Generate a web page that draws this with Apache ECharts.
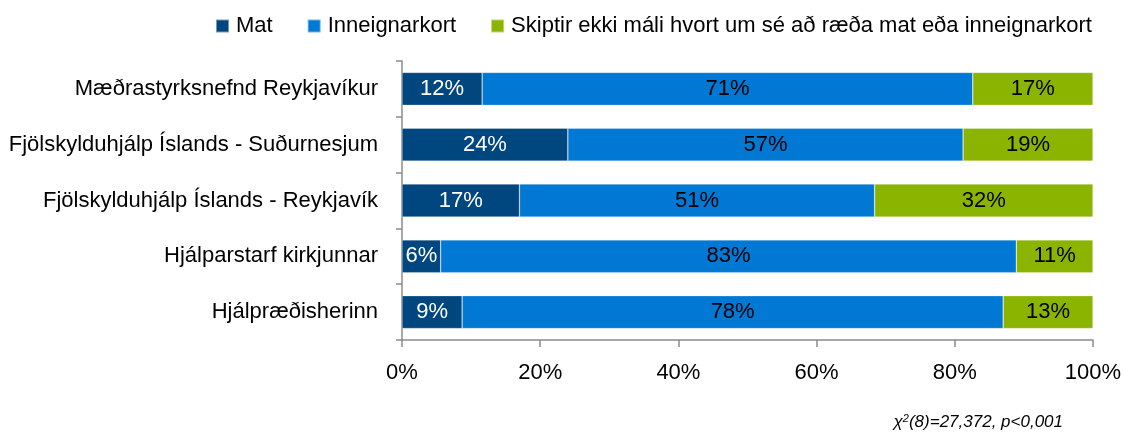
<!DOCTYPE html>
<html>
<head>
<meta charset="utf-8">
<style>
  html, body { margin: 0; padding: 0; background: #fff; }
  #chart { width: 1125px; height: 436px; }
</style>
<script src="https://cdn.jsdelivr.net/npm/echarts@6/dist/echarts.min.js"></script>
</head>
<body>
<div id="chart"></div>
<script>
var categories = [
  "Mæðrastyrksnefnd Reykjavíkur",
  "Fjölskylduhjálp Íslands - Suðurnesjum",
  "Fjölskylduhjálp Íslands - Reykjavík",
  "Hjálparstarf kirkjunnar",
  "Hjálpræðisherinn"
];
var legendNames = ["Mat", "Inneignarkort", "Skiptir ekki máli hvort um sé að ræða mat eða inneignarkort"];
var matValues = [11.6, 24.0, 17.0, 5.6, 8.7];
var inneignValues = [71.0, 57.2, 51.4, 83.3, 78.3];
var skiptirValues = [17.4, 18.8, 31.6, 11.1, 13.0];
var xTicks = [0, 20, 40, 60, 80, 100];

var FONT = "'Liberation Sans Narrow', 'Arial Narrow', 'Liberation Sans', Arial, sans-serif";

var myChart = echarts.init(document.getElementById("chart"));

function barSeries(name, values, color, labelColor) {
  return {
    name: name,
    type: "bar",
    stack: "total",
    barCategoryGap: "41%",
    data: values,
    itemStyle: {
      color: color,
      borderColor: "rgba(255,255,255,0.45)",
      borderWidth: 0.6
    },
    label: {
      show: true,
      position: "inside",
      color: labelColor,
      fontFamily: FONT,
      fontSize: 22,
      formatter: function (p) {
        return Math.round(p.value) + "%";
      }
    }
  };
}

var option = {
  animation: false,
  textStyle: { fontFamily: FONT },
  legend: {
    data: legendNames,
    left: 210,
    top: 10,
    icon: "rect",
    itemWidth: 13,
    itemHeight: 13,
    itemGap: 34,
    textStyle: {
      fontFamily: FONT,
      fontSize: 22,
      color: "#000",
      padding: [0, 0, 0, 2]
    }
  },
  grid: {
    left: 402,
    right: 32,
    top: 61,
    bottom: 96
  },
  xAxis: {
    type: "value",
    min: 0,
    max: 100,
    interval: 20,
    splitLine: { show: false },
    axisLine: { show: true, lineStyle: { color: "#8c8c8c", width: 1.5 } },
    axisTick: { show: true, length: 7, lineStyle: { color: "#8c8c8c", width: 1.5 } },
    axisLabel: {
      color: "#000",
      fontFamily: FONT,
      fontSize: 22,
      margin: 22,
      formatter: function (v) {
        return xTicks.indexOf(v) >= 0 ? v + "%" : "";
      }
    }
  },
  yAxis: {
    type: "category",
    inverse: true,
    data: categories,
    axisLine: { show: true, lineStyle: { color: "#8c8c8c", width: 1.5 } },
    axisTick: { show: true, length: 6, lineStyle: { color: "#8c8c8c", width: 1.5 } },
    axisLabel: {
      color: "#000",
      fontFamily: FONT,
      fontSize: 22,
      margin: 24
    }
  },
  graphic: [
    {
      type: "text",
      right: 62,
      top: 413,
      style: {
        rich: {
          it: { fontFamily: FONT, fontStyle: "italic", fontSize: 17, fill: "#000" },
          sup: { fontFamily: FONT, fontStyle: "italic", fontSize: 11, fill: "#000", verticalAlign: "top", padding: [0, 0, 8, 0] }
        },
        text: "{it|χ}{sup|2}{it|(8)=27,372, p<0,001}"
      }
    }
  ],
  series: [
    barSeries(legendNames[0], matValues, "#00467f", "#fff"),
    barSeries(legendNames[1], inneignValues, "#0078d4", "#000"),
    barSeries(legendNames[2], skiptirValues, "#8ab400", "#000")
  ]
};

myChart.setOption(option);
</script>
</body>
</html>
